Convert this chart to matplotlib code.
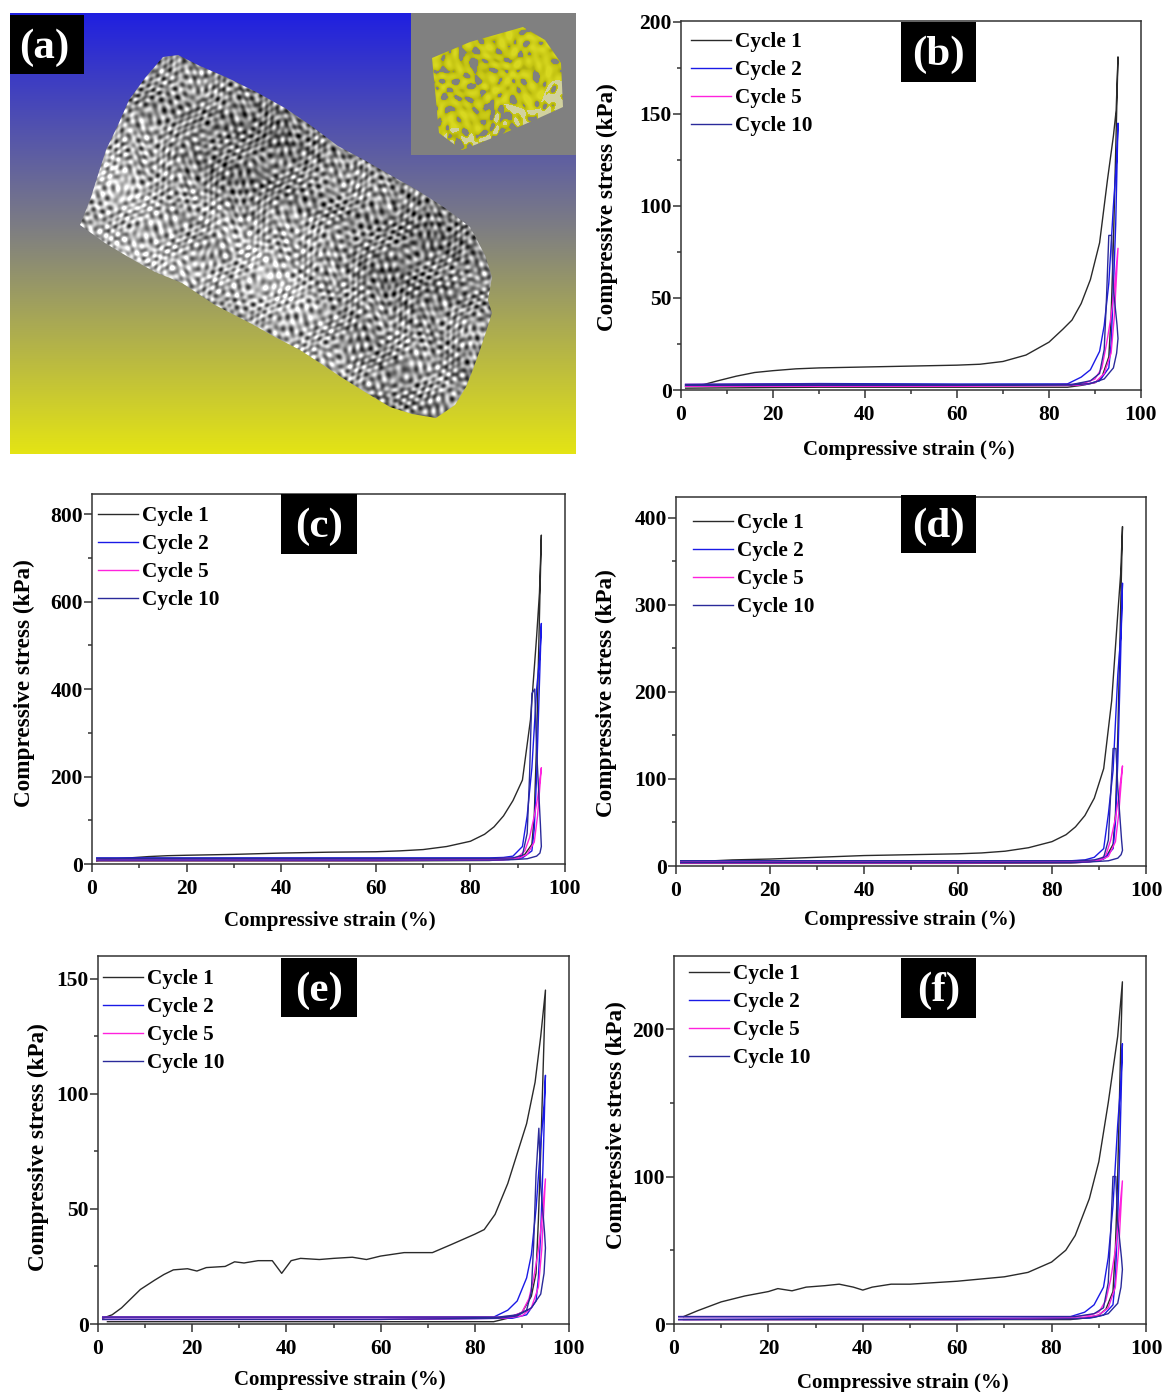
## Compressive stress-strain loops (panels b-f) with a CT render in panel (a)
import matplotlib
matplotlib.use('Agg')
import matplotlib.pyplot as plt
from matplotlib.colors import LinearSegmentedColormap
from matplotlib.patches import Polygon, Rectangle
from matplotlib.ticker import MultipleLocator
import numpy as np

plt.rcParams['font.family'] = ['Liberation Serif', 'DejaVu Serif']
plt.rcParams['font.weight'] = 'bold'

W, H = 1164, 1392
cycle_labels = ['Cycle 1', 'Cycle 2', 'Cycle 5', 'Cycle 10']
cycle_colors = ['#2a2a2a', '#1a1ae6', '#ff22dd', '#2a2a9a']
xlabel = 'Compressive strain (%)'
ylabel = 'Compressive stress (kPa)'

# strain (load, then unload)
strain_c1 = [1,5,8,12,16,20,25,30,40,50,60,65,70,75,80,83,85,87,89,91,92.7,94,94.6,95,
             94.5,94,93.5,93,91.5,90,87,84,60,30,1]
strain_e1 = [1,3,5,7,9,12,14,16,19,21,23,27,29,31,34,37,39,41,43,47,50,54,57,60,65,71,75,80,82,84.3,87,89,91,92.8,94,95,
             94.5,94,93.5,93,92,90,87,84,60,30,2]
strain_f1 = [2,5,10,15,20,22,25,28,32,35,38,40,42,46,50,60,70,75,80,83,85,88,90,92,94,95,
             94.5,94,93.5,93,91.5,90,87,84,60,30,2]
strain_c2 = [1,30,60,84,87,89,91,92,93,94,94.7,95,94.5,94,93.5,93,91,88,60,30,1]
strain_c5 = [1,30,60,85,88,90,91.5,92.5,93.5,94.2,95,94.2,93.5,92,90,86,60,30,1]
strain_c10 = [1,30,60,85,89,91,92,92.5,93,93.6,94,94.8,95,94.7,94,92,89,85,60,30,1]

# stress in kPa, one list per panel and cycle
b_c1 = [2,3,5,7.5,9.5,10.5,11.5,12,12.5,13,13.5,14,15.5,19,26,33,38,47,60,80,114,138,152,181,
        130,80,40,18,7,4,2.5,1.5,1.5,1.5,1]
b_c2 = [3,3.5,3.2,3.3,7,11,21,35,58,100,125,145,90,55,25,12,5,3,2.5,2.5,2]
b_c5 = [3,3,2.5,3,4,6,12,25,40,55,77,40,20,9,4,2.5,2,2,2]
b_c10 = [3,3.3,3,3,5,9,22,50,84,84,55,35,28,20,12,6,3.5,2.8,2.5,2.5,2.5]

c_c1 = [8,12,14,17,19,20,21,22,25,27,28,30,33,40,52,68,85,110,145,192,330,520,620,752,
        520,280,110,45,22,14,10,8,7,7,7]
c_c2 = [14,14,14,14,15,18,40,110,220,400,480,550,380,200,80,30,14,10,9,9,9]
c_c5 = [12,12,12,12,13,15,30,60,110,150,220,110,50,22,12,9,8,8,8]
c_c10 = [13,13,13,13,14,20,70,200,390,400,260,90,40,25,18,12,10,9,9,9,9]

d_c1 = [4,5,6,7,7.5,8,9,10,12,13,14,15,17,21,28,36,45,58,78,112,190,290,335,390,
        270,150,60,25,10,6,4.5,3.5,3,3,3]
d_c2 = [6,6,6,6,7,10,20,60,110,220,270,325,220,120,50,20,8,5,4,4,4]
d_c5 = [5,5,5,5,6,7,13,30,55,80,115,60,28,11,6,4,3.5,3.5,3.5]
d_c10 = [6,6,6,6,7,10,30,85,135,135,90,30,18,13,9,6,5,4,4,4,4]

e_c1 = [2.5,4,7,11,15,19,21.5,23.5,24,23,24.5,25,27,26.5,27.5,27.5,22,27.5,28.5,28,28.5,29,28,29.5,31,31,34.5,39,41,47.6,61,74,87,105,125,145,
        110,75,45,22,12,5,2.5,1,1,1,1]
e_c2 = [3,3,3,3,6,10,20,30,50,78,95,108,70,40,20,10,4,2.5,2,2,2]
e_c5 = [3,3,3,3,3.5,5,11,20,32,45,63,32,16,7,3.5,2.5,2,2,2]
e_c10 = [3,3,3,3,4,6,14,35,65,85,60,40,33,22,13,7,3.5,2.5,2,2,2]

f_c1 = [5,9,15,19,22,24,22.5,25,26,27,25,23,25,27,27,29,32,35,42,50,60,85,110,150,195,232,
        170,100,50,22,10,6,4,3,3,3,3]
f_c2 = [5,5,5,5,8,13,25,45,80,135,165,190,125,70,30,13,6,4,3.5,3.5,3]
f_c5 = [5,5,5,5,6,8,16,30,50,70,97,50,25,11,6,4,3,3,3]
f_c10 = [5,5,5,5,7,11,28,60,100,100,70,45,37,25,14,7,4.5,3.5,3,3,3]

y_major = {'b': 50, 'c': 200, 'd': 100, 'e': 50, 'f': 100}
y_top = {'b': 200.5, 'c': 846, 'd': 424, 'e': 159.8, 'f': 249.5}

# pixel layout: axes box, x label centre, y label centre, legend anchor, tag box
layout = {
    'b': dict(box=(681, 21, 1141, 390), xl=(909, 450), yl=(607, 207), leg=(691, 40), tag=(901, 22, 976, 82)),
    'c': dict(box=(92, 494, 565, 864), xl=(330, 921), yl=(24, 683), leg=(98, 514), tag=(281, 494, 357, 554)),
    'd': dict(box=(676, 497, 1146, 866), xl=(910, 920), yl=(606, 693), leg=(693, 521), tag=(901, 495, 976, 553)),
    'e': dict(box=(98, 956, 569, 1324), xl=(340, 1380), yl=(38, 1147), leg=(103, 977), tag=(281, 958, 357, 1017)),
    'f': dict(box=(674, 956, 1146, 1324), xl=(903, 1383), yl=(616, 1125), leg=(689, 972), tag=(901, 958, 976, 1018)),
}

# outlines of the render in panel (a), image pixels
specimen_outline = [(163,57),(178,55),(200,66),(228,78),(258,93),(285,108),(310,125),(338,146),(364,160),
                    (392,176),(417,190),(445,208),(470,227),(485,255),(492,277),(488,300),(492,313),(486,332),
                    (480,350),(472,372),(466,387),(455,405),(436,418),(412,414),(390,407),(365,392),(341,377),
                    (320,363),(300,350),(275,337),(250,323),(215,305),(182,283),(155,272),(130,258),(105,243),
                    (80,225),(90,200),(106,150),(118,125),(129,100),(145,78)]
inset_outline = [(432,58),(470,42),(523,27),(545,40),(561,63),(563,107),(530,122),(500,135),(462,150),(439,133)]
wave_angles = [0, 37, 71, 109, 146]
wave_periods = [1.25, 1.4, 1.15, 1.5, 1.3]

fig = plt.figure(figsize=(W/100, H/100), dpi=100)
bg = fig.add_axes([0, 0, 1, 1])
bg.set_xlim(0, W)
bg.set_ylim(H, 0)
bg.axis('off')


def worm_texture(x0, x1, y0, y1, angle, scale=1.0):
    # wavy interference pattern standing in for the rendered pore surface
    xx, yy = np.meshgrid(np.arange(x0, x1), np.arange(y0, y1))
    u = xx*np.cos(angle) + yy*np.sin(angle)
    v = -xx*np.sin(angle) + yy*np.cos(angle)
    w1 = 2.8*np.sin(v/11.0 + 1.3*np.sin(u/14.0))
    w2 = 2.8*np.sin(u/9.0 + 1.1*np.sin(v/17.0))
    t = np.zeros_like(u, dtype=float)
    for i, (a, per) in enumerate(zip(wave_angles, wave_periods)):
        r = np.radians(a)
        t = t + np.sin((xx*np.cos(r) + yy*np.sin(r))/(per*scale) + (w1 if i % 2 else w2))
    t = t + 0.8*np.sin(u/31.0 + 2.0*np.sin(v/23.0))*np.sin(v/19.0)
    return (t - t.min())/(t.max() - t.min()), u, v


def draw_panel_a():
    grad = LinearSegmentedColormap.from_list('g', ['#2020e0', '#808080', '#e4e414'])
    bg.imshow(np.linspace(0, 1, 256)[:, None], cmap=grad, extent=(10, 576, 454, 13), aspect='auto', zorder=1)
    spec, u, v = worm_texture(70, 500, 50, 425, np.radians(32))
    # the flank along the lower edge of the specimen is paler
    spec = spec + 0.14*np.clip((v - v.min() - 240)/60.0, 0, 1)*np.clip((u.max() - u - 60)/200.0, 0, 1)
    im = bg.imshow(spec, cmap='gray', vmin=0.05, vmax=0.88, extent=(70, 500, 425, 50), aspect='auto',
                   interpolation='bilinear', zorder=2)
    im.set_clip_path(Polygon(specimen_outline, closed=True, transform=bg.transData))
    bg.add_patch(Rectangle((411, 13), 165, 142, fc='#808080', ec='none', zorder=3))
    yel = LinearSegmentedColormap.from_list('y', ['#80800c', '#c4c412', '#d8d820'])
    ins, iu, iv = worm_texture(420, 570, 20, 160, np.radians(-25), scale=1.7)
    rgba = yel(np.clip(ins*1.6 - 0.2, 0, 1))
    pale = (iv + 9*np.sin(iu/9.0) > np.percentile(iv, 70)) & (ins > 0.5)
    rgba[pale, :3] = [0.82, 0.82, 0.62]
    rgba[ins < 0.33, 3] = 0
    im2 = bg.imshow(rgba, extent=(420, 570, 160, 20), aspect='auto', interpolation='bilinear', zorder=4)
    im2.set_clip_path(Polygon(inset_outline, closed=True, transform=bg.transData))
    bg.set_xlim(0, W)
    bg.set_ylim(H, 0)
    bg.add_patch(Rectangle((10, 15), 74, 59, fc='black', ec='none', zorder=5))
    bg.text(44, 48, '(a)', color='white', fontsize=31, ha='center', va='center', zorder=6)


def draw_panel(name, series):
    p = layout[name]
    x0, y0, x1, y1 = p['box']
    ax = fig.add_axes([x0/W, 1 - y1/H, (x1 - x0)/W, (y1 - y0)/H])
    ax.patch.set_alpha(0)
    for (sx, sy), col, lab in zip(series, cycle_colors, cycle_labels):
        ax.plot(sx, sy, color=col, lw=1.0, label=lab)
    ax.set_xlim(0, 100)
    ax.set_ylim(0, y_top[name])
    ax.xaxis.set_major_locator(MultipleLocator(20))
    ax.xaxis.set_minor_locator(MultipleLocator(10))
    ax.yaxis.set_major_locator(MultipleLocator(y_major[name]))
    ax.yaxis.set_minor_locator(MultipleLocator(y_major[name]/2))
    ax.tick_params(which='major', direction='out', length=5.5, width=1.1, labelsize=15.5, color='#333333')
    ax.tick_params(which='minor', direction='out', length=3, width=1.1, color='#333333')
    ax.tick_params(axis='x', which='major', pad=5)
    ax.tick_params(axis='y', which='major', pad=1)
    for sp in ax.spines.values():
        sp.set_linewidth(1.1)
        sp.set_color('#333333')
    ax.set_xlabel(xlabel, fontsize=15, fontweight='bold')
    ax.set_ylabel(ylabel, fontsize=16.7, fontweight='bold')
    ax.xaxis.set_label_coords((p['xl'][0] - x0)/(x1 - x0), (y1 - p['xl'][1] + 10)/(y1 - y0))
    ax.yaxis.set_label_coords((p['yl'][0] + 11 - x0)/(x1 - x0), (y1 - p['yl'][1])/(y1 - y0))
    lx, ly = p['leg']
    ax.legend(loc='upper left', bbox_to_anchor=((lx - x0)/(x1 - x0), (y1 - ly + 8)/(y1 - y0)), frameon=False,
              fontsize=15.3, borderpad=0, borderaxespad=0, handlelength=1.9, handletextpad=0.18, labelspacing=0.38)
    tx0, ty0, tx1, ty1 = p['tag']
    bg.add_patch(Rectangle((tx0, ty0), tx1 - tx0, ty1 - ty0, fc='black', ec='none', zorder=5))
    bg.text((tx0 + tx1)/2, (ty0 + ty1)/2 + 3, '(%s)' % name, color='white', fontsize=31, ha='center', va='center', zorder=6)
    ax.set_zorder(2)


bg.set_zorder(3)
draw_panel_a()
draw_panel('b', [(strain_c1, b_c1), (strain_c2, b_c2), (strain_c5, b_c5), (strain_c10, b_c10)])
draw_panel('c', [(strain_c1, c_c1), (strain_c2, c_c2), (strain_c5, c_c5), (strain_c10, c_c10)])
draw_panel('d', [(strain_c1, d_c1), (strain_c2, d_c2), (strain_c5, d_c5), (strain_c10, d_c10)])
draw_panel('e', [(strain_e1, e_c1), (strain_c2, e_c2), (strain_c5, e_c5), (strain_c10, e_c10)])
draw_panel('f', [(strain_f1, f_c1), (strain_c2, f_c2), (strain_c5, f_c5), (strain_c10, f_c10)])

fig.savefig('out.png', dpi=100, facecolor='white')
